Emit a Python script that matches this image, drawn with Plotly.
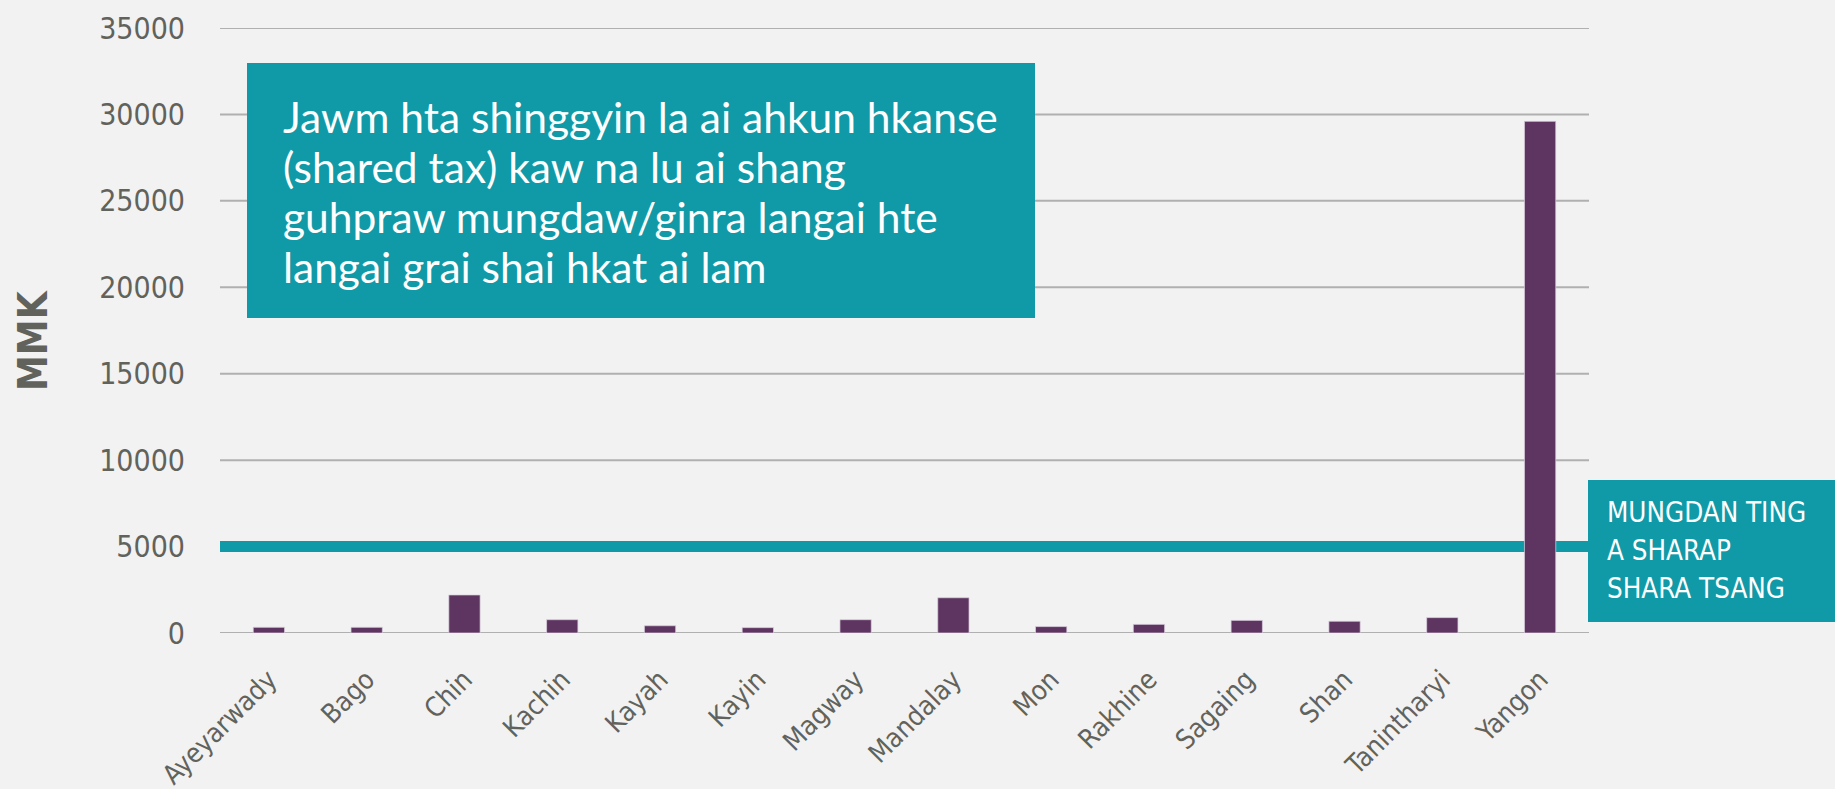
import plotly.graph_objects as go

regions = ["Ayeyarwady", "Bago", "Chin", "Kachin", "Kayah", "Kayin", "Magway",
           "Mandalay", "Mon", "Rakhine", "Sagaing", "Shan", "Tanintharyi", "Yangon"]
values = [330, 330, 2200, 770, 420, 310, 770, 2040, 370, 500, 730, 680, 890, 29600]
threshold = 5000
y_ticks = [0, 5000, 10000, 15000, 20000, 25000, 30000, 35000]
y_tick_labels = [str(v) for v in y_ticks]

note_lines = ["Jawm hta shinggyin la ai ahkun hkanse",
              "(shared tax) kaw na lu ai shang",
              "guhpraw mungdaw/ginra langai hte",
              "langai grai shai hkat ai lam"]
threshold_lines = ["MUNGDAN TING", "A SHARAP", "SHARA TSANG"]
y_title = "MMK"

W, H = 1835, 789
L, R, T, B = 220, 246, 28, 156
pw, ph = W - L - R, H - T - B


def px_x(px):
    return (px - L) / pw


def px_y(py):
    return (H - B - py) / ph


TEAL = "#109aa8"
PURPLE = "#5e3560"
GRAY_TXT = "#62625c"
GRID = "#b0b0b0"
BG = "#f2f2f2"
NARROW = "DejaVu Sans Condensed, sans-serif"

fig = go.Figure()
fig.add_trace(go.Bar(
    x=regions, y=values,
    marker=dict(color=PURPLE, line=dict(color="rgba(220,210,225,0.7)", width=1)),
    hoverinfo="x+y",
))

fig.update_layout(
    template="none",
    width=W, height=H,
    margin=dict(l=L, r=R, t=T, b=B, autoexpand=False),
    paper_bgcolor=BG, plot_bgcolor=BG,
    bargap=0.68,
    showlegend=False,
    xaxis=dict(
        automargin=False,
        tickangle=-45,
        tickfont=dict(family=NARROW, size=27, color=GRAY_TXT),
        ticks="outside", ticklen=19, tickcolor="rgba(0,0,0,0)",
        showgrid=False, showline=False, zeroline=False,
    ),
    yaxis=dict(
        automargin=False,
        range=[0, 35000],
        tickvals=y_ticks, ticktext=y_tick_labels,
        tickfont=dict(family=NARROW, size=30, color=GRAY_TXT),
        ticks="outside", ticklen=28, tickcolor="rgba(0,0,0,0)",
        showgrid=False, zeroline=False, showline=False,
    ),
)

# gridlines as shapes so the threshold line can sit above them and below the bars
for v in y_ticks:
    fig.add_shape(type="line", xref="x domain", yref="y",
                  x0=0, x1=1, y0=v, y1=v,
                  line=dict(color=GRID, width=2), layer="below")

# threshold line
fig.add_shape(type="line", xref="x domain", yref="y",
              x0=0, x1=1, y0=threshold, y1=threshold,
              line=dict(color=TEAL, width=11), layer="below")

# threshold label box
fig.add_shape(type="rect", xref="paper", yref="paper",
              x0=px_x(1588), x1=px_x(1835), y0=px_y(622), y1=px_y(480),
              fillcolor=TEAL, line=dict(width=0), layer="above")
for i, line in enumerate(threshold_lines):
    fig.add_annotation(xref="paper", yref="paper",
                       x=px_x(1605), y=px_y(512 + 38 * i),
                       xanchor="left", yanchor="middle", align="left",
                       text=line, showarrow=False,
                       font=dict(family=NARROW, size=27.5, color="white"))

# note box
fig.add_shape(type="rect", xref="paper", yref="paper",
              x0=px_x(247), x1=px_x(1035), y0=px_y(318), y1=px_y(63),
              fillcolor=TEAL, line=dict(width=0), layer="above")
for i, line in enumerate(note_lines):
    fig.add_annotation(xref="paper", yref="paper",
                       x=px_x(281), y=px_y(116 + 50.3 * i),
                       xanchor="left", yanchor="middle", align="left",
                       text=line, showarrow=False,
                       font=dict(family="Lato, sans-serif", size=42.5, color="white"))

# y axis title
fig.add_annotation(xref="paper", yref="paper",
                   x=px_x(33), y=px_y(340),
                   xanchor="center", yanchor="middle",
                   text="<b>" + y_title + "</b>", textangle=-90, showarrow=False,
                   font=dict(family=NARROW, size=40, color=GRAY_TXT))

fig.write_html("out.html", config={"displayModeBar": False},
               post_script="document.body.style.margin='0';")
